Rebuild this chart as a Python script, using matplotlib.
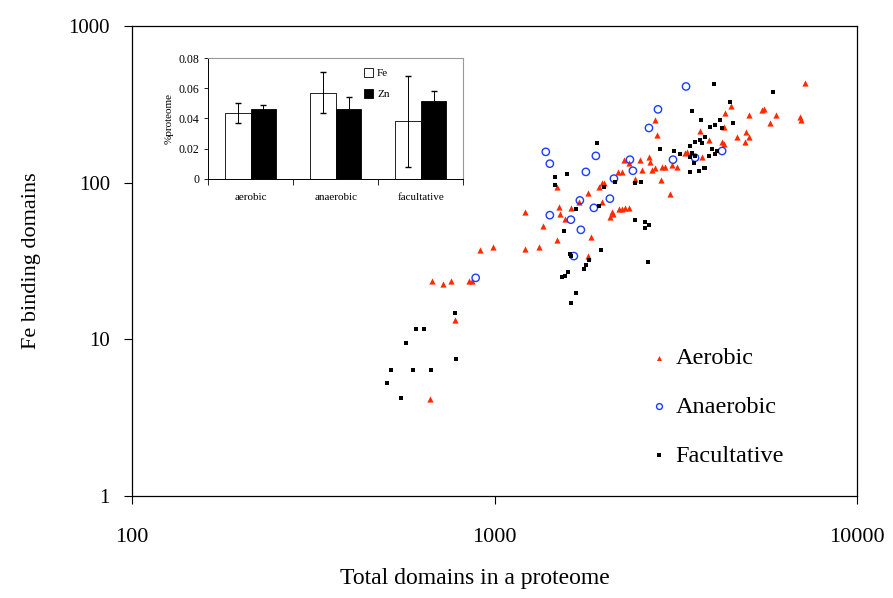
import numpy as np
import matplotlib
matplotlib.use('Agg')
import matplotlib.pyplot as plt

plt.rcParams['font.family'] = ['Liberation Serif', 'DejaVu Serif']

# aerobic proteomes (total domains, Fe binding domains)
aer_x = [661, 775, 670, 718, 756, 848, 864, 909, 987, 1210, 1210, 1323, 1357, 1483, 1483,
         1502, 1512, 1561, 1622, 1807, 1842, 1807, 1706, 1975, 1938, 1975, 2000, 2078, 2105,
         2187, 2201, 2243, 2286, 2345, 2243, 2272, 2345, 2436, 2515, 2547, 2680, 2663, 2715,
         2767, 2893, 2949, 3083, 3182, 2874, 3044, 2767, 2802, 3349, 3391, 3731, 3684, 3902,
         4238, 4292, 4292, 4320, 4487, 4662, 4904, 4935, 5030, 5030, 5466, 5536, 5751, 5973,
         6960, 7004, 7186, 2118]
aer_y = [4.2, 13.4, 23.7, 22.7, 23.7, 23.7, 23.7, 37, 39, 65, 38, 39, 53, 43, 94,
         70, 63, 59, 69, 86, 45, 34, 75, 75, 94, 100, 100, 60, 65,
         117, 68, 68, 69, 69, 116, 140, 134, 106, 140, 121, 136, 146, 121,
         124, 126, 126, 130, 126, 104, 84, 250, 201, 155, 157, 146, 213, 187,
         182, 176, 226, 277, 306, 195, 182, 210, 195, 269, 289, 293, 239, 269,
         261, 250, 434, 63]

# anaerobic proteomes
ana_x = [886, 1383, 1419, 1419, 1622, 1653, 1717, 1728, 1784, 1877, 1901, 2078, 2132,
         2360, 2405, 2663, 2820, 3102, 3370, 3568, 4238]
ana_y = [24.7, 157, 132, 62, 58, 34, 77, 50, 117, 69, 148, 79, 106,
         140, 119, 223, 293, 140, 410, 144, 159]

# facultative proteomes
fac_x = [503, 516, 550, 568, 594, 605, 637, 666, 775, 780, 1465, 1465, 1531, 1561, 1591,
         1622, 1674, 1551, 1581, 1611, 1622, 1674, 1761, 1784, 1818, 1913, 1938, 1962, 2000,
         2145, 2436, 2531, 2436, 2596, 2663, 2596, 2646, 2856, 3122, 3243, 3457, 3457, 3501,
         3568, 3457, 3660, 3779, 3546, 3501, 3707, 3803, 3684, 3731, 3568, 3927, 4053, 4184,
         4238, 4027, 4459, 4545, 3977, 4105, 4053, 3902, 3803, 5861]
fac_y = [5.3, 6.4, 4.26, 9.5, 6.4, 11.6, 11.6, 6.4, 14.7, 7.5, 108, 97, 25, 25.5, 27,
         17, 19.9, 49, 114, 35, 34, 68, 28, 30, 32, 179, 71, 37, 94,
         101, 100, 101, 58, 56, 54, 51, 31, 164, 159, 152, 146, 171, 155,
         148, 117, 119, 123, 134, 285, 250, 195, 187, 179, 182, 226, 232, 250,
         223, 422, 325, 239, 164, 159, 152, 148, 124, 376]

# inset: fraction of proteome
groups = ['aerobic', 'anaerobic', 'facultative']
fe_mean = [0.0435, 0.057, 0.038]
fe_err = [0.0065, 0.0135, 0.030]
zn_mean = [0.046, 0.0465, 0.0515]
zn_err = [0.003, 0.008, 0.0065]

fig = plt.figure(figsize=(8.93, 5.98), dpi=100)
ax = fig.add_axes([0.148, 0.17, 0.812, 0.787])

ax.scatter(aer_x, aer_y, marker='^', s=20, color='#ff2a00', linewidths=0, label='Aerobic', zorder=3)
ax.scatter(ana_x, ana_y, marker='o', s=28, facecolors='none', edgecolors='#1a3cff', linewidths=1.0,
           label='Anaerobic', zorder=3)
ax.scatter(fac_x, fac_y, marker='s', s=10, color='black', linewidths=0, label='Facultative', zorder=4)

ax.set_xscale('log')
ax.set_yscale('log')
ax.set_xlim(100, 10000)
ax.set_ylim(1, 1000)
ax.set_xticks([100, 1000, 10000])
ax.set_xticklabels(['100', '1000', '10000'])
ax.set_yticks([1, 10, 100, 1000])
ax.set_yticklabels(['1', '10', '100', '1000'])
ax.minorticks_off()
ax.tick_params(axis='both', which='major', direction='out', length=6, width=0.8, labelsize=15)
ax.tick_params(axis='x', pad=17, labelsize=16)
ax.tick_params(axis='y', pad=10)
for sp in ax.spines.values():
    sp.set_linewidth(0.9)
ax.set_xlabel('Total domains in a proteome', fontsize=17)
ax.xaxis.set_label_coords(0.472, -0.153)
ax.set_ylabel('Fe binding domains', fontsize=16, labelpad=20)

leg = ax.legend(loc='center left', bbox_to_anchor=(0.687, 0.19), frameon=False, fontsize=17.5,
                labelspacing=1.1, handlelength=0.6, handletextpad=0.35, markerscale=0.8,
                scatterpoints=1)

# inset bar chart
ins = fig.add_axes([0.233, 0.701, 0.286, 0.202])
pos = np.arange(len(groups))
w = 0.3
ins.bar(pos - w / 2, fe_mean, w, color='white', edgecolor='black', linewidth=0.6, label='Fe')
ins.bar(pos + w / 2, zn_mean, w, color='black', edgecolor='black', linewidth=0.6, label='Zn')
ins.errorbar(pos - w / 2, fe_mean, yerr=fe_err, fmt='none', ecolor='black', elinewidth=0.7, capsize=2)
ins.errorbar(pos + w / 2, zn_mean, yerr=zn_err, fmt='none', ecolor='black', elinewidth=0.7, capsize=2)
ins.set_xlim(-0.5, 2.5)
ins.set_ylim(0, 0.08)
ins.set_yticks([0, 0.02, 0.04, 0.06, 0.08])
ins.set_yticklabels(['0', '0.02', '0.04', '0.06', '0.08'])
ins.set_xticks([-0.5, 0.5, 1.5, 2.5])
ins.set_xticklabels([])
ins.set_xticks(pos, minor=True)
ins.set_xticklabels(groups, minor=True)
ins.tick_params(axis='x', which='major', direction='out', length=4, width=0.6)
ins.tick_params(axis='x', which='minor', length=0, pad=10, labelsize=8)
ins.tick_params(axis='y', direction='out', length=3, width=0.6, labelsize=8.5)
ins.set_ylabel('%proteome', fontsize=8, labelpad=3)
ins.spines['top'].set_color('#999999')
ins.spines['right'].set_color('#999999')
for k in ['left', 'bottom']:
    ins.spines[k].set_linewidth(0.7)
ins.legend(loc='upper right', bbox_to_anchor=(0.75, 1.0), frameon=False, fontsize=8,
           handlelength=0.8, handleheight=0.8, handletextpad=0.4, labelspacing=1.0)

fig.savefig('out.png', dpi=100)
